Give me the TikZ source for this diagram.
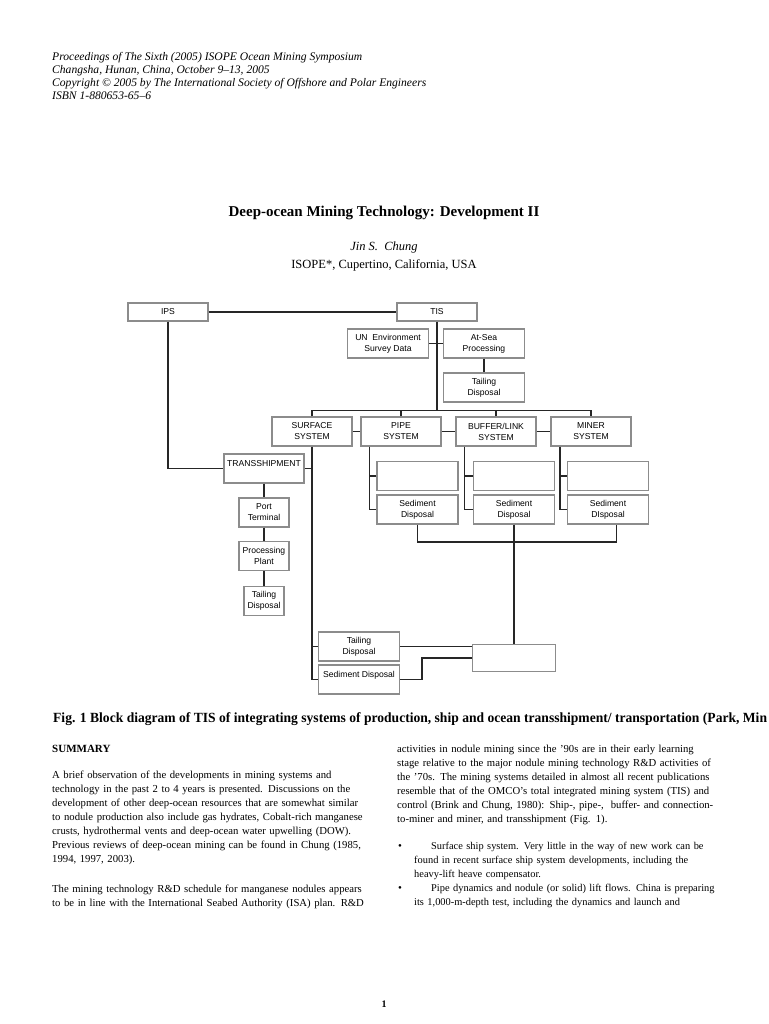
\documentclass[tikz,border=0pt]{standalone}
\usepackage{fontspec}
\setmainfont{Liberation Serif}
\newfontfamily\boxfont{Liberation Sans}
\newfontfamily\capfont[FakeStretch=0.97]{Liberation Serif}
\newcommand\jl[1]{\makebox[\linewidth][s]{#1}}
\tikzset{
  blk/.style={draw=black!45,line width=1.1pt,inner sep=0pt,minimum height=29pt,align=center,font=\boxfont\fontsize{8.6}{11}\selectfont},
  wire/.style={line width=1.3pt,black!85},
  hdr/.style={anchor=base west,inner sep=0pt,font=\fontsize{11.6}{13}\selectfont\itshape},
  body/.style={anchor=base west,inner sep=0pt,text width=319pt,align=left,font=\fontsize{10.7}{14}\selectfont}
}
\begin{document}
\begin{tikzpicture}[x=1pt,y=-1pt]
\useasboundingbox[fill=white] (0,0) rectangle (768,1024);
\node[hdr] (hd1) at (52,61) {Proceedings of The Sixth (2005) ISOPE Ocean Mining Symposium};
\node[hdr] (hd2) at (52,74) {Changsha, Hunan, China, October 9–13, 2005};
\node[hdr] (hd3) at (52,87) {Copyright © 2005 by The International Society of Offshore and Polar Engineers};
\node[hdr] (hd4) at (52,100) {ISBN 1-880653-65–6};
\node[anchor=base,inner sep=0pt,font=\fontsize{15}{18}\selectfont\bfseries] (title) at (384,217) {Deep-ocean Mining Technology: Development II};
\node[anchor=base,inner sep=0pt,font=\fontsize{12.5}{15}\selectfont\itshape] (author) at (384,251) {Jin S.\ \ Chung};
\node[anchor=base,inner sep=0pt,font=\fontsize{12.5}{15}\selectfont] (affil) at (384,268) {ISOPE*, Cupertino, California, USA};

\node[blk,minimum width=80pt,minimum height=18pt] (ips) at (168,312) {IPS};
\node[blk,minimum width=80pt,minimum height=18pt] (tis) at (437,312) {TIS};
\node[blk,minimum width=81pt] (un) at (388,343.5) {UN\ \ Environment\\Survey Data};
\node[blk,minimum width=81pt] (sea) at (484,343.5) {At-Sea\\Processing};
\node[blk,minimum width=81pt] (tail1) at (484,387.5) {Tailing\\Disposal};
\node[blk,minimum width=80pt] (surf) at (312,431.5) {SURFACE\\SYSTEM};
\node[blk,minimum width=80pt] (pipe) at (401,431.5) {PIPE\\SYSTEM};
\node[blk,minimum width=80pt] (buff) at (496,431.5) {BUFFER/LINK\\SYSTEM};
\node[blk,minimum width=80pt] (miner) at (591,431.5) {MINER\\SYSTEM};
\node[blk,minimum width=80pt] (trans) at (264,468.5) {TRANSSHIPMENT\\~};
\node[blk,minimum width=50pt] (port) at (264,512.5) {Port\\Terminal};
\node[blk,minimum width=50pt] (proc) at (264,556) {Processing\\Plant};
\node[blk,minimum width=40pt] (tail2) at (264,601) {Tailing\\Disposal};
\node[blk,minimum width=81pt] (e1) at (417.5,476) {};
\node[blk,minimum width=81pt] (sed1) at (417.5,509.5) {Sediment\\Disposal};
\node[blk,minimum width=81pt] (e2) at (514,476) {};
\node[blk,minimum width=81pt] (sed2) at (514,509.5) {Sediment\\Disposal};
\node[blk,minimum width=81pt] (e3) at (608,476) {};
\node[blk,minimum width=81pt] (sed3) at (608,509.5) {Sediment\\DIsposal};
\node[blk,minimum width=81pt] (tail3) at (359,646.5) {Tailing\\Disposal};
\node[blk,minimum width=81pt] (sed4) at (359,679.5) {Sediment Disposal\\~};
\node[blk,minimum width=83pt,minimum height=27pt] (endbox) at (514,658) {};

\coordinate (bus) at (437,410.5);
\coordinate (sbus) at (514,542);
\coordinate (pc) at ([xshift=9pt]pipe.south west);
\coordinate (bc) at ([xshift=9pt]buff.south west);
\coordinate (mc) at ([xshift=9.5pt]miner.south west);
\coordinate (m3) at ([xshift=8.5pt]sed3.south);

\draw[wire] (ips) -- (tis);
\draw[wire,line width=1.8pt] (ips) |- (trans);
\draw[wire] (tis) -- (bus);
\draw[wire] (un) -- (sea);
\draw[wire] (sea) -- (tail1);
\draw[wire] (surf.north) |- (bus -| miner) -- (miner.north);
\draw[wire] (pipe.north) -- (pipe.north |- bus);
\draw[wire] (buff.north) -- (buff.north |- bus);
\draw[wire] (surf) -- (pipe);
\draw[wire] (pipe) -- (buff);
\draw[wire] (buff) -- (miner);
\draw[wire] (surf) |- (sed4);
\draw[wire] (trans.east) -- (trans.east -| surf);
\draw[wire] (tail3.west) -- (tail3.west -| surf);
\draw[wire] (trans) -- (port);
\draw[wire] (port) -- (proc);
\draw[wire] (proc) -- (tail2);
\draw[wire] (pc) |- (sed1);
\draw[wire] (e1.west) -- (e1.west -| pc);
\draw[wire] (bc) |- (sed2);
\draw[wire] (e2.west) -- (e2.west -| bc);
\draw[wire] (mc) |- (sed3);
\draw[wire] (e3.west) -- (e3.west -| mc);
\draw[wire] (sed1) |- (m3 |- sbus) -- (m3);
\draw[wire] (sed2) -- (endbox);
\draw[wire] (tail3) -- (tail3 -| endbox.west);
\draw[wire,line width=1.6pt] (sed4.east) -- ++(22,0) |- (endbox.west);

\node[anchor=base west,inner sep=0pt,font=\capfont\fontsize{14}{16}\selectfont\bfseries] (cap) at (53,722) {Fig. 1 Block diagram of TIS of integrating systems of production, ship and ocean transshipment/ transportation (Park, Min};

\node[anchor=base west,inner sep=0pt,font=\fontsize{11}{14}\selectfont\bfseries] (summ) at (52,752) {SUMMARY};
\node[body] (par1) at (52,778) {\jl{A brief observation of the developments in mining systems and}\\
\jl{technology in the past 2 to 4 years is presented. Discussions on the}\\
\jl{development of other deep-ocean resources that are somewhat similar}\\
\jl{to nodule production also include gas hydrates, Cobalt-rich manganese}\\
\jl{crusts, hydrothermal vents and deep-ocean water upwelling (DOW).}\\
\jl{Previous reviews of deep-ocean mining can be found in Chung (1985,}\\
1994, 1997, 2003).};
\node[body] (par2) at (52,892) {\jl{The mining technology R\&D schedule for manganese nodules appears}\\
\jl{to be in line with the International Seabed Authority (ISA) plan. R\&D}};
\node[body] (par3) at (397,752) {\jl{activities in nodule mining since the ’90s are in their early learning}\\
\jl{stage relative to the major nodule mining technology R\&D activities of}\\
\jl{the ’70s. The mining systems detailed in almost all recent publications}\\
\jl{resemble that of the OMCO’s total integrated mining system (TIS) and}\\
\jl{control (Brink and Chung, 1980): Ship-, pipe-,\ \ buffer- and connection-}\\
to-miner and miner, and transshipment (Fig. 1).};
\node[anchor=base west,inner sep=0pt,font=\fontsize{11}{14}\selectfont] (dot1) at (398,849) {\textbullet};
\node[body,text width=302pt,font=\fontsize{10.4}{14}\selectfont] (item1) at (414,849) {\jl{\hspace*{17pt}Surface ship system. Very little in the way of new work can be}\\
\jl{found in recent surface ship system developments, including the}\\
heavy-lift heave compensator.};
\node[anchor=base west,inner sep=0pt,font=\fontsize{11}{14}\selectfont] (dot2) at (398,891) {\textbullet};
\node[body,text width=302pt,font=\fontsize{10.4}{14}\selectfont] (item2) at (414,891) {\jl{\hspace*{17pt}Pipe dynamics and nodule (or solid) lift flows. China is preparing}\\
\jl{its 1,000-m-depth test, including the dynamics and launch and}};
\node[anchor=base,inner sep=0pt,font=\fontsize{10}{12}\selectfont\bfseries] (pg) at (384,1007) {1};
\end{tikzpicture}
\end{document}
